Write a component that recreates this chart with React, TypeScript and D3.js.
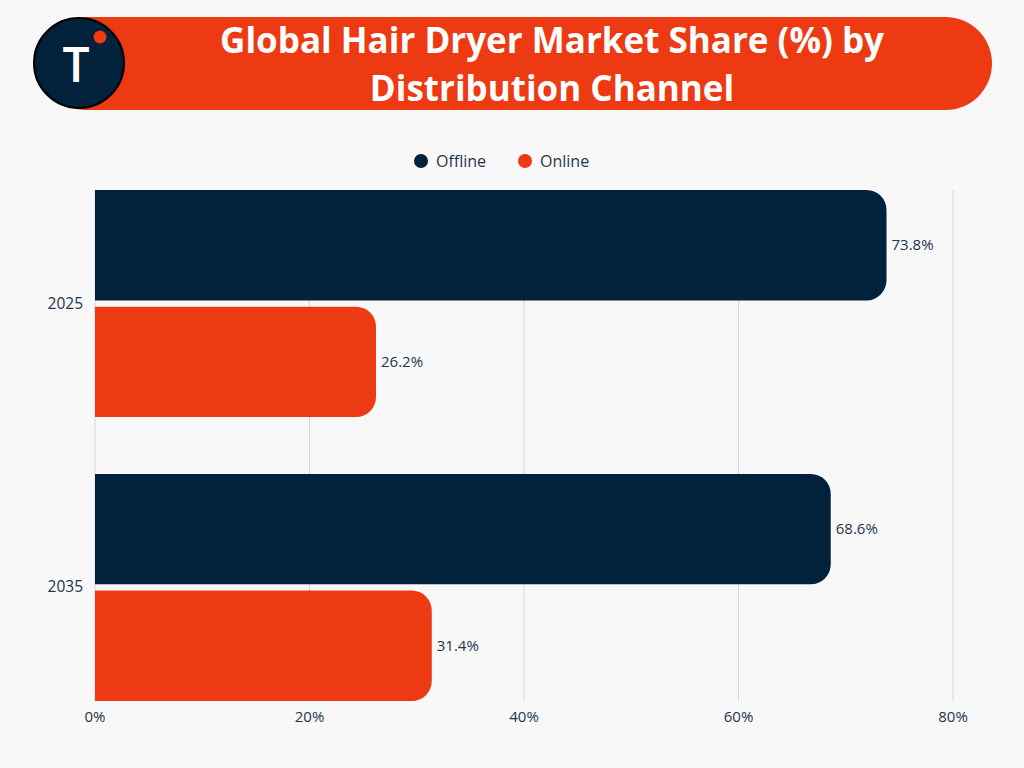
import React from "react";
import * as d3 from "d3";

const years = ["2025", "2035"];
const channels = ["Offline", "Online"];
const offline = [73.8, 68.6];
const online = [26.2, 31.4];
const ticks = [0, 20, 40, 60, 80];
const titleLines = ["Global Hair Dryer Market Share (%) by", "Distribution Channel"];

const NAVY = "#02213B";
const RED = "#EE3A12";
const BG = "#F8F8F8";
const TEXT = "#1E3550";
const FONT = "'Open Sans', 'Noto Sans', sans-serif";

function barPath(x0: number, x1: number, y0: number, h: number, r: number) {
  const rr = Math.min(r, (x1 - x0), h / 2);
  const p = d3.path();
  p.moveTo(x0, y0);
  p.lineTo(x1 - rr, y0);
  p.arcTo(x1, y0, x1, y0 + rr, rr);
  p.lineTo(x1, y0 + h - rr);
  p.arcTo(x1, y0 + h, x1 - rr, y0 + h, rr);
  p.lineTo(x0, y0 + h);
  p.closePath();
  return p.toString();
}

export default function App() {
  const W = 1024, H = 768;
  const x = d3.scaleLinear().domain([0, 80]).range([95, 953]);
  const y = d3.scaleBand().domain(years).range([190, 701]).paddingInner(0.2).paddingOuter(0);
  const inner = d3.scaleBand().domain(channels).range([0, y.bandwidth()]).paddingInner(0.054);
  const series = [offline, online];
  const colors = [NAVY, RED];

  return (
    <svg width={W} height={H} style={{ position: "absolute", left: 0, top: 0, background: BG }}>
      <rect x={0} y={0} width={W} height={H} fill={BG} />
      {/* banner */}
      <rect x={40} y={17} width={952} height={93} rx={46.5} fill={RED} />
      <circle cx={79} cy={63} r={45} fill={NAVY} stroke="#000" strokeWidth={2} />
      <text x={76} y={82} textAnchor="middle" fill="#fff" fontFamily={FONT} fontWeight={600} fontSize={48}>T</text>
      <circle cx={100} cy={37} r={6.5} fill={RED} />
      {titleLines.map((t, i) => (
        <text key={i} x={552} y={53 + i * 48} textAnchor="middle" fill="#fff" fontFamily={FONT} fontWeight={700} fontSize={35}>{t}</text>
      ))}
      {/* legend */}
      {channels.map((c, i) => {
        const lx = [421, 525][i];
        return (
          <g key={c}>
            <circle cx={lx} cy={161} r={7} fill={colors[i]} />
            <text x={lx + 15} y={166.5} fill={TEXT} fontFamily={FONT} fontSize={16}>{c}</text>
          </g>
        );
      })}
      {/* grid */}
      {ticks.map((t) => (
        <g key={t}>
          <line x1={x(t)} x2={x(t)} y1={190} y2={701} stroke="#D3D6DB" strokeWidth={1} />
          <text x={x(t)} y={722} textAnchor="middle" fill={TEXT} fontFamily={FONT} fontSize={15}>{t}%</text>
        </g>
      ))}
      {/* bars */}
      {years.map((yr, yi) => (
        <g key={yr}>
          <text x={83} y={(y(yr) as number) + y.bandwidth() / 2 + 5} textAnchor="end" fill={TEXT} fontFamily={FONT} fontSize={15.5}>{yr}</text>
          {channels.map((c, ci) => {
            const v = series[ci][yi];
            const by = (y(yr) as number) + (inner(c) as number);
            const bh = inner.bandwidth();
            return (
              <g key={c}>
                <path d={barPath(x(0), x(v), by, bh, 20)} fill={colors[ci]} />
                <text x={x(v) + 5} y={by + bh / 2 + 5} fill={TEXT} fontFamily={FONT} fontSize={15}>{v.toFixed(1)}%</text>
              </g>
            );
          })}
        </g>
      ))}
    </svg>
  );
}
